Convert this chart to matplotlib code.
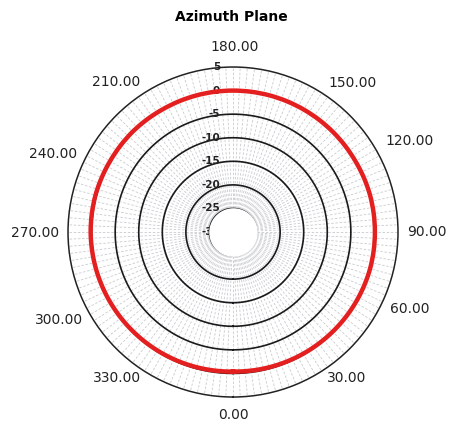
import numpy as np
import matplotlib
matplotlib.use('Agg')
import matplotlib.pyplot as plt

# Azimuth pattern (dB), every 15 degrees
angles_deg = [0, 15, 30, 45, 60, 75, 90, 105, 120, 135, 150, 165, 180,
              195, 210, 225, 240, 255, 270, 285, 300, 315, 330, 345, 360]
gain_db = [-0.4, -0.3, -0.2, -0.1, 0.0, 0.1, 0.1, 0.1, 0.0, 0.0, 0.0, 0.0, 0.0,
           0.0, 0.0, 0.1, 0.1, 0.2, 0.2, 0.1, 0.0, -0.1, -0.2, -0.3, -0.4]

ring_levels = [5, 0, -5, -10, -15, -20, -25, -30]
angle_ticks = [0, 30, 60, 90, 120, 150, 180, 210, 240, 270, 300, 330]
angle_labels = ['%.2f' % a for a in angle_ticks]

# where each angle label sits relative to the outer ring (pixels)
label_offsets = [(0, -18), (31, -3), (34, 6), (29, 0), (34, 9), (37, 6),
                 (2, 20), (-34, 7), (-37, -4), (-33, -1), (-31, -5), (-34, -3)]

fig = plt.figure(figsize=(4.51, 4.28), dpi=100)
ax = fig.add_axes([0.1508, 0.0724, 0.7317, 0.771], projection='polar')
ax.set_theta_zero_location('S')
ax.set_theta_direction(1)
ax.set_ylim(-30, 5)

# no default grid / ticks, everything drawn by hand
ax.grid(False)
ax.set_xticks([])
ax.set_yticks([])
ax.spines['polar'].set_color('#222222')
ax.spines['polar'].set_linewidth(1.1)

full = np.linspace(0, 2 * np.pi, 721)

# light dashed spokes
spokes = np.deg2rad(np.arange(0, 360, 2.5))
ax.vlines(spokes, -25, 5, colors='#c8cbce', linewidth=0.6,
          linestyles=(0, (3, 2)), zorder=1)

# rings
for lev in ring_levels[1:-1]:
    ax.plot(full, np.full_like(full, lev), color='#1a1a1a', lw=1.2, zorder=2)

# radial labels along the top
for lev in ring_levels:
    ax.annotate(str(lev), xy=(np.pi, lev), xytext=(-13, 0),
                textcoords='offset pixels', ha='right', va='center',
                fontsize=7.5, fontweight='bold', color='#222222', zorder=2,
                annotation_clip=False)

# white hole in the middle
ax.fill_between(full, -30, -25, color='white', zorder=3)

# pattern, drawn as arcs between the read points
theta = np.deg2rad(angles_deg)
line, = ax.plot(theta, gain_db, color='#e41f1f', lw=3.2, zorder=4)
line.get_path()._interpolation_steps = 40

# angle labels
for a, lab, (dx, dy) in zip(angle_ticks, angle_labels, label_offsets):
    ax.annotate(lab, xy=(np.deg2rad(a), 5), xytext=(dx, dy),
                textcoords='offset pixels', ha='center', va='center',
                fontsize=10, color='#222222', annotation_clip=False)

fig.text(0.513, 0.960, 'Azimuth Plane', ha='center', va='center',
         fontsize=10, fontweight='bold')

fig.savefig('out.png', dpi=100, facecolor='white')
